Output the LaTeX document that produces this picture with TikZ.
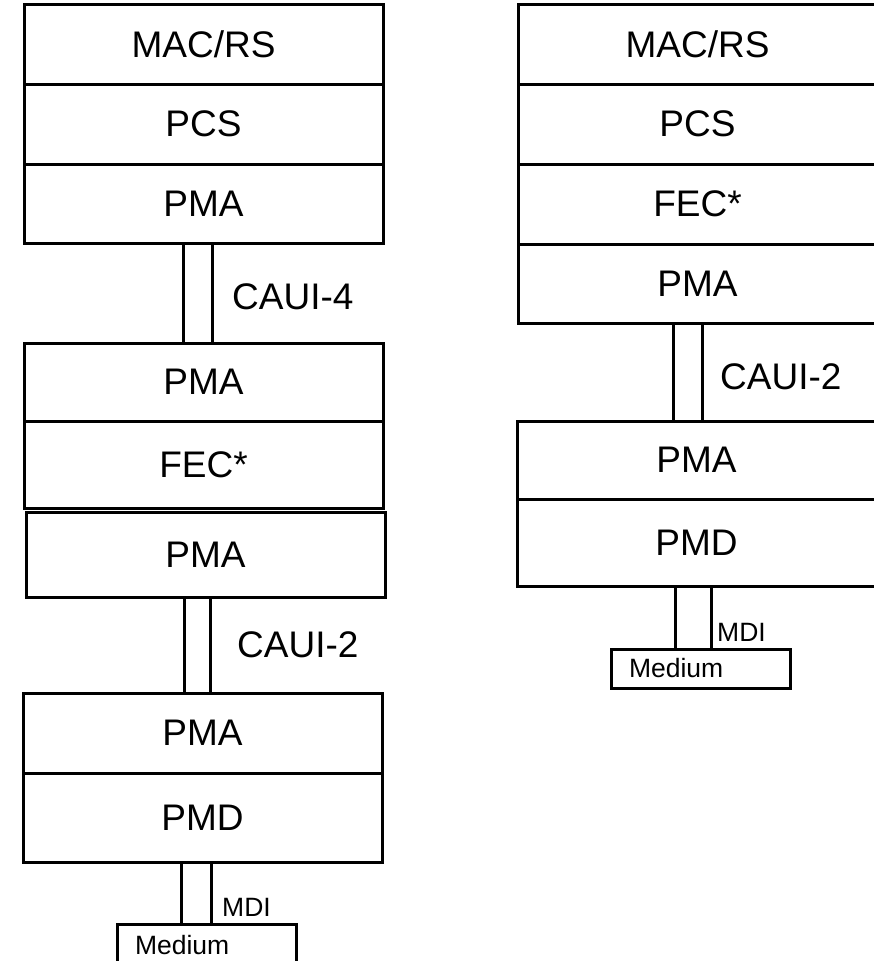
\documentclass[tikz,border=0pt]{standalone}
\usepackage{fontspec}
\setmainfont{Liberation Sans}

\begin{document}
\begin{tikzpicture}[x=1pt,y=-1pt,
    layer/.style={draw,line width=3pt,outer sep=0pt,inner sep=0pt,
        minimum width=359pt,font=\fontsize{37}{44}\selectfont},
    medbox/.style={draw,line width=3pt,outer sep=0pt,inner ysep=0pt,
        inner xsep=18pt,text width=143pt,align=left,
        font=\fontsize{26.5}{32}\selectfont},
    linkbar/.style={draw,line width=3pt},
    tag/.style={inner sep=0pt,anchor=west,font=\fontsize{37}{44}\selectfont},
    smalltag/.style={inner sep=0pt,anchor=west,font=\fontsize{26.5}{32}\selectfont}]
    \useasboundingbox (0,0) rectangle (873,961);

    % left stack
    \node[layer,minimum height=80pt] (mac1) at (203.5,44) {MAC/RS};
    \node[layer,minimum height=80pt] (pcs1) at (203.5,124) {PCS};
    \node[layer,minimum height=79pt] (pma1) at (203.5,203.5) {PMA};

    \node[layer,minimum height=78pt] (pma2) at (203.5,382) {PMA};
    \node[layer,minimum height=87pt] (fec1) at (203.5,464.5) {FEC*};
    \node[layer,minimum height=85pt] (pma3) at (205.5,554.5) {PMA};

    \node[layer,minimum height=80pt] (pma4) at (202.5,733) {PMA};
    \node[layer,minimum height=89pt] (pmd1) at (202.5,817.5) {PMD};
    \node[medbox,minimum height=42pt] (med1) at (206.5,945) {Medium};

    % left links
    \draw[linkbar] ([xshift=-20.5pt]pma1.south) rectangle ([xshift=8.5pt]pma2.north);
    \draw[linkbar] ([xshift=-21.5pt]pma3.south) rectangle ([xshift=7.5pt]pma4.north);
    \draw[linkbar] ([xshift=-21.5pt]pmd1.south) rectangle ([xshift=4.5pt]med1.north);

    \node[tag] (caui4) at (232,297) {CAUI-4};
    \node[tag] (caui2a) at (237,645) {CAUI-2};
    \node[smalltag] (mdi1) at (222,907) {MDI};

    % right stack
    \node[layer,minimum height=80pt] (mac2) at (697.5,44) {MAC/RS};
    \node[layer,minimum height=80pt] (pcs2) at (697.5,124) {PCS};
    \node[layer,minimum height=80pt] (fec2) at (697.5,204) {FEC*};
    \node[layer,minimum height=79pt] (pma5) at (697.5,283.5) {PMA};

    \node[layer,minimum height=78pt] (pma6) at (696.5,460) {PMA};
    \node[layer,minimum height=87pt] (pmd2) at (696.5,542.5) {PMD};
    \node[medbox,minimum height=39pt] (med2) at (700.5,668.5) {Medium};

    % right links
    \draw[linkbar] ([xshift=-24.5pt]pma5.south) rectangle ([xshift=5.5pt]pma6.north);
    \draw[linkbar] ([xshift=-21.5pt]pmd2.south) rectangle ([xshift=10.5pt]med2.north);

    \node[tag] (caui2b) at (720,377) {CAUI-2};
    \node[smalltag] (mdi2) at (717,632) {MDI};
\end{tikzpicture}
\end{document}
